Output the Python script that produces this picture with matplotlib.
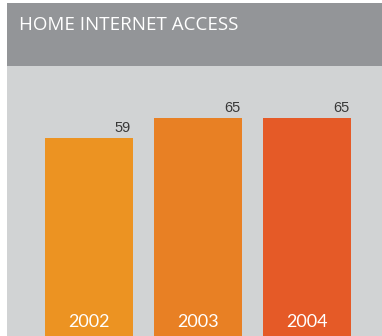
import matplotlib
matplotlib.use("Agg")
import matplotlib.pyplot as plt
from matplotlib.patches import Rectangle

title = "HOME INTERNET ACCESS"
years = ["2002", "2003", "2004"]
values = [59, 65, 65]
colors = ["#EC9322", "#E88024", "#E55A27"]

W, H = 382, 336
fig = plt.figure(figsize=(W / 100, H / 100), dpi=100)
fig.patch.set_facecolor("white")

# header band
fig.patches.append(Rectangle((7 / W, 1 - 66 / H), 1 - 7 / W, 63 / H,
                             transform=fig.transFigure, facecolor="#939598",
                             edgecolor="none", zorder=0))
fig.text(19 / W, 1 - 30 / H, title, color="white", fontsize=13.5,
         family="Open Sans", fontweight=500, ha="left", va="baseline")

ax = fig.add_axes([7 / W, 0, 1 - 7 / W, 270 / H])
ax.set_facecolor("#D1D3D4")
x = list(range(len(years)))
bw = 0.807
ax.bar(x, values, width=bw, color=colors, edgecolor="none")
for xi, v, y in zip(x, values, years):
    ax.text(xi + bw / 2 - 0.018, v + 1.8, str(v), ha="right", va="baseline",
            fontsize=10.5, color="#383838", family="Liberation Sans")
    ax.text(xi, 4.3, y, ha="center", va="center", fontsize=13,
            color="white", family="Lato")
ax.set_xlim(-0.752, 2.688)
ax.set_ylim(0, 80.5)
ax.set_xticks([])
ax.set_yticks([])
for s in ax.spines.values():
    s.set_visible(False)

fig.savefig("out.png", dpi=100, facecolor="white")
